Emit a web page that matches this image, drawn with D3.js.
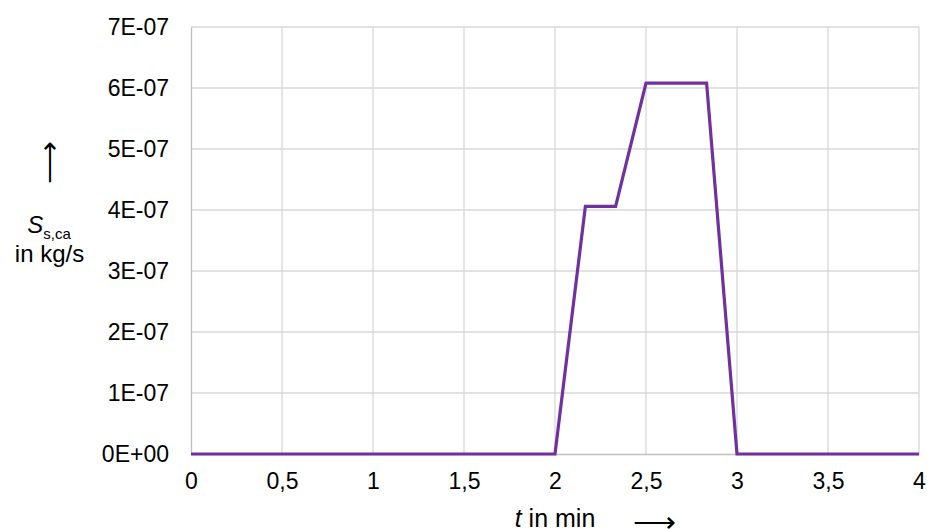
<!DOCTYPE html>
<html><head><meta charset="utf-8">
<script src="https://cdn.jsdelivr.net/npm/d3@7"></script>
<style>body{margin:0;background:#fff}text{font-family:"Liberation Sans",Arial,sans-serif}</style>
</head><body><svg id="c" width="927" height="529"></svg>
<script>
const tValues = [0, 2, 2.167, 2.333, 2.5, 2.833, 3, 4];
const sValues = [0, 0, 4.06e-7, 4.06e-7, 6.08e-7, 6.08e-7, 0, 0];
const xTicks = [0, 0.5, 1, 1.5, 2, 2.5, 3, 3.5, 4];
const yTicks = [0, 1e-7, 2e-7, 3e-7, 4e-7, 5e-7, 6e-7, 7e-7];
const yTickLabels = ["0E+00","1E-07","2E-07","3E-07","4E-07","5E-07","6E-07","7E-07"];

const FONT = '"Liberation Sans",Arial,sans-serif';
const svg = d3.select("#c");
const m = {l:191, r:919, t:27, b:454};
const x = d3.scaleLinear().domain([0,4]).range([m.l, m.r]);
const y = d3.scaleLinear().domain([0,7e-7]).range([m.b, m.t]);

// gridlines
svg.append("g").selectAll("line").data(xTicks.slice(1)).join("line")
  .attr("x1", d=>x(d)).attr("x2", d=>x(d)).attr("y1", m.t).attr("y2", m.b)
  .attr("stroke", "#d9d9d9").attr("stroke-width", 1.3);
svg.append("g").selectAll("line").data(yTicks.slice(1)).join("line")
  .attr("x1", m.l).attr("x2", m.r).attr("y1", d=>y(d)).attr("y2", d=>y(d))
  .attr("stroke", "#d9d9d9").attr("stroke-width", 1.3);

// axes
const yAxis = d3.axisLeft(y).tickValues(yTicks).tickSize(0).tickPadding(22)
  .tickFormat((d,i)=>yTickLabels[i]);
const gy = svg.append("g").attr("transform", `translate(${m.l},0)`).call(yAxis);
gy.select(".domain").attr("stroke", "#bfbfbf").attr("stroke-width", 1.3);
gy.selectAll("text").attr("font-size", 23).attr("fill", "#000").attr("font-family", FONT);

const xAxis = d3.axisBottom(x).tickValues(xTicks).tickSize(0).tickPadding(19)
  .tickFormat(d=>String(d).replace(".", ","));
const gx = svg.append("g").attr("transform", `translate(0,${m.b})`).call(xAxis);
gx.select(".domain").attr("stroke", "#bfbfbf").attr("stroke-width", 1.3);
gx.selectAll("text").attr("font-size", 23).attr("fill", "#000").attr("font-family", FONT);

// line
const line = d3.line().x((d,i)=>x(tValues[i])).y(d=>y(d));
svg.append("path").datum(sValues).attr("d", line)
  .attr("fill", "none").attr("stroke", "#7030a0").attr("stroke-width", 3.2)
  .attr("stroke-linejoin", "miter");

// arrow glyph helper: fit the long arrow's advance width to a length
function arrow(cx, cy, len, angle) {
  const g = svg.append("g");
  const t = g.append("text").attr("text-anchor", "middle")
    .attr("font-family", "DejaVu Sans").attr("font-size", 20).attr("fill", "#000")
    .attr("dy", "0.34em").text("⟶");
  const w = t.node().getComputedTextLength();
  const s = len / w;
  g.attr("transform", `translate(${cx},${cy}) rotate(${angle}) scale(${s})`);
}

// x title
const xt = svg.append("text").attr("x", 555).attr("y", 527).attr("text-anchor","middle")
  .attr("font-size", 25);
xt.append("tspan").attr("font-style","italic").text("t");
xt.append("tspan").text(" in min");
arrow(654, 521.5, 44, 0);

// y title
arrow(48.5, 162.5, 44, -90);
const yt = svg.append("text").attr("x", 49).attr("y", 233).attr("text-anchor","middle").attr("font-size", 24);
yt.append("tspan").attr("font-style","italic").text("S");
yt.append("tspan").attr("font-size", 15).attr("dy", 6).text("s,ca");
svg.append("text").attr("x", 49.5).attr("y", 262).attr("text-anchor","middle").attr("font-size", 24).text("in kg/s");
</script></body></html>
